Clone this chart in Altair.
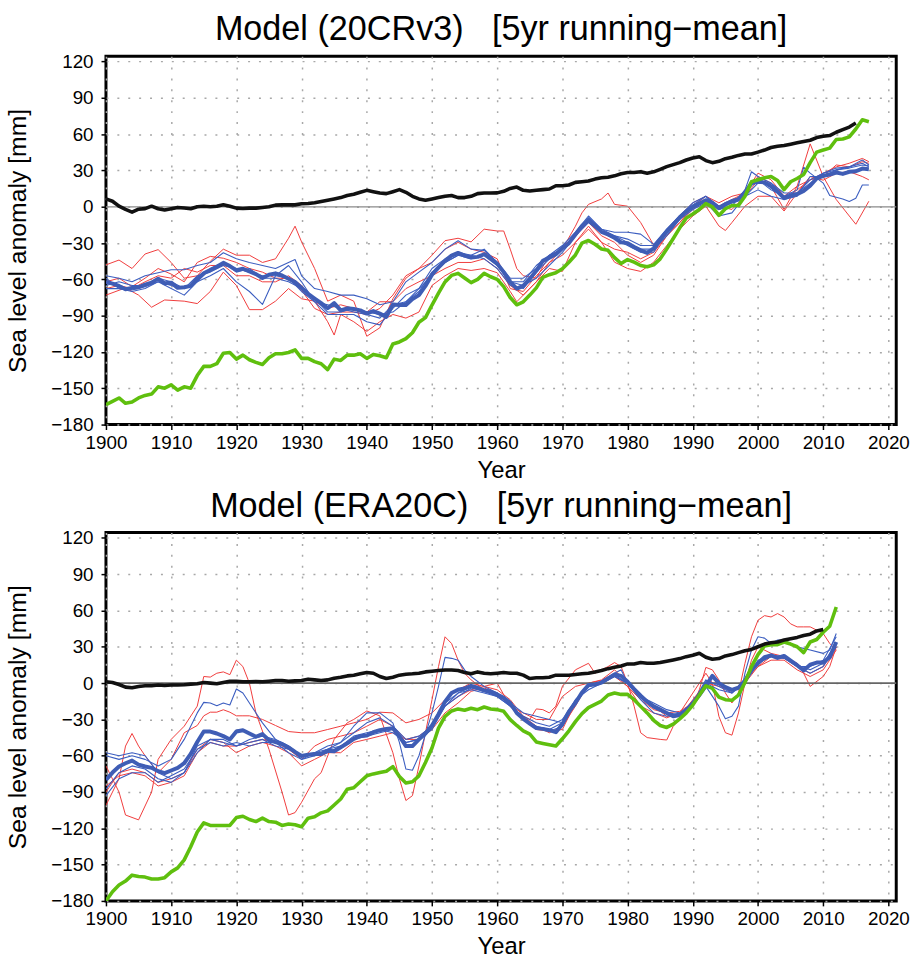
import altair as alt
import pandas as pd

FONT = "Liberation Sans, Arial, sans-serif"

# ---------------- Top panel: Model (20CRv3) ----------------
top_black_years = list(range(1900, 2016))
top_black = [6.5, 4.6, 0.5, -2.2, -4.4, -2, -1.5, 0.5, -1.6, -2.7,
             -1.6, -0.5, -1, -1.6, 0, 0.5, 0, 0.5, 1.6, 0.5,
             -1.1, -1.4, -1.1, -1.1, -0.5, 0, 1.4, 1.6, 1.6, 1.6,
             2.5, 2.7, 3.3, 4.4, 5.5, 6.5, 7.6, 9.3, 10.4, 12,
             13.6, 12.5, 11.4, 10.9, 12.5, 14.2, 12, 8.7, 6.5, 5.5,
             6.5, 7.6, 8.7, 9.3, 7.6, 7.6, 8.7, 10.9, 11.4, 11.4,
             11.5, 12.8, 15.2, 16.3, 13.6, 13, 13.6, 14.2, 14.7, 17.4,
             17.4, 18, 20.2, 20.7, 21.3, 22.9, 24, 24.5, 25.6, 27.3,
             28.3, 28.3, 28.9, 27.8, 28.9, 31, 33.2, 34.9, 36.5, 38.7,
             40.3, 41.4, 38.2, 36.5, 37.6, 39.8, 40.9, 42.5, 43.6, 43.6,
             45.2, 46.9, 49, 50.1, 50.7, 51.8, 52.9, 54, 55, 57.2,
             58.3, 58.9, 61.6, 63.8, 65.9, 69.2]

top_main_years = list(range(1900, 2018))
top_green = [-163.5, -160.8, -158, -162.4, -161.3, -158, -155.9, -154.8, -148.8, -149.9,
             -147.2, -151.5, -148.8, -149.9, -139.5, -131.9, -131.9, -129.7, -121, -120.4,
             -125.9, -122.6, -126.4, -128.6, -130.3, -124.8, -121.5, -121.5, -120.4, -118.3,
             -125.3, -125.3, -128, -129.7, -134.6, -125.9, -127, -122.6, -122.6, -121.5,
             -125.3, -122, -123.1, -124.8, -113.4, -111.7, -109, -104.1, -95.4, -91.6,
             -81.2, -71.4, -62.1, -56.7, -55, -58.9, -62.7, -60, -55, -57.8,
             -60, -66, -75, -81, -78.5, -73, -67, -58.3, -56.1, -54.5,
             -51.2, -45.8, -39.8, -30, -27.8, -31, -34.9, -36, -42, -46.9,
             -43.6, -45.8, -48.5, -49.6, -48, -43, -34.9, -26.2, -17.4, -9.3,
             -6, -2.2, 2.7, 0, -7.1, -1.6, 1.1, 1.1, 8.7, 20.7,
             22.3, 24, 25, 21.8, 14.2, 20.7, 23.4, 26.7, 36.5, 45.2,
             46.9, 48.5, 55.6, 56.1, 57.8, 64.3, 71.9, 70.3]
top_mean = [-62.1, -63.5, -65.4, -68.1, -67, -66.5, -64.3, -62.7, -59.4, -63.2,
            -62.7, -67, -66.5, -65.4, -59.4, -55, -52.3, -49.6, -46.3, -49,
            -52.3, -51.2, -53.4, -55.6, -58.9, -56.1, -55, -56.7, -59.4, -62.1,
            -67, -71.9, -75.8, -79.6, -83.9, -79.6, -85.6, -83.9, -84.5, -85.6,
            -88.3, -86.1, -88.3, -91, -80.7, -81.2, -81.2, -76.3, -73, -65.4,
            -56.1, -50.1, -44.7, -40.3, -38.1, -40.3, -42, -41.4, -39.2, -43,
            -47, -54, -62, -67.6, -65.4, -59.4, -52.9, -44.7, -42, -39.2,
            -34.3, -30, -22.9, -15.8, -10.9, -15.8, -20.7, -22.9, -25.6, -29.4,
            -30, -33.2, -36, -38.1, -34.3, -27.2, -20.7, -14.7, -8.7, -3.8,
            0, 2.7, 5.5, 3.3, -1.1, 2.2, 4.4, 6, 12, 19.6,
            20.7, 20.2, 16.9, 12.5, 7.1, 9.3, 10.4, 13, 17.4, 23.4,
            25.6, 26.7, 28.3, 27.2, 28.9, 29.4, 31.6, 31]

even_top = list(range(1900, 2017, 2)) + [2017]

top_red1_years = [1900, 1902, 1904, 1906, 1908, 1910, 1912, 1914, 1916, 1918,
                  1920, 1922, 1924, 1926, 1928, 1929, 1930, 1932, 1934, 1936,
                  1938, 1940, 1942, 1944, 1946, 1948, 1950, 1952, 1954, 1956,
                  1958, 1960, 1961, 1962, 1963, 1964, 1966, 1968, 1970, 1972,
                  1973, 1974, 1976, 1977, 1978, 1980, 1982, 1984, 1986, 1988,
                  1990, 1992, 1994, 1996, 1998, 2000, 2002, 2004, 2006, 2008,
                  2010, 2012, 2014, 2015, 2017]
top_red1 = [-48, -44, -51, -39, -35.4, -46, -59, -57, -45, -35,
            -40, -40, -46, -43, -26, -16, -29, -51, -78, -73,
            -78, -107, -100, -76, -59, -51, -40, -28, -26, -29,
            -18.5, -20, -20, -35, -51, -57, -59, -40, -35, -16,
            -5, 2, 6.5, 11.4, 2, 0.5, -13, -31.6, -21, -7.6,
            3.3, 8.7, 0.5, -2.2, 8.7, 22, 17, -2.2, 17, 52,
            25, 6, -7.6, -14.4, 4.6]
top_red2_years = [1900, 1903, 1905, 1907, 1909, 1912, 1914, 1916, 1918, 1920,
                  1922, 1924, 1926, 1928, 1930, 1932, 1934, 1935, 1936, 1938,
                  1940, 1942, 1944, 1946, 1948, 1950, 1952, 1954, 1956, 1958,
                  1960, 1962, 1963, 1964, 1966, 1968, 1970, 1972, 1974, 1976,
                  1978, 1980, 1982, 1984, 1986, 1988, 1990, 1992, 1994, 1995,
                  1996, 1998, 2000, 2002, 2004, 2006, 2008, 2010, 2012, 2014,
                  2016, 2017]
top_red2 = [-73, -67, -73, -83, -77, -78, -80, -70, -54, -65,
            -85, -85, -78, -67.6, -76, -78, -95, -106, -89, -95,
            -103, -95, -89, -92, -87, -65, -57, -51, -52.6, -51,
            -54.5, -70, -78.5, -73, -62, -51, -53.4, -29.4, -16, -29.4,
            -45.8, -51, -53.4, -45.8, -32, -18.5, -7.6, 0.5, -15.8, -19.6,
            -13, 0.5, 8.7, 8.7, -3.5, 11.4, 25, 22, 27.8, 29,
            25, 22.3]
top_red3 = [-62, -59, -66, -59, -51, -55.6, -62, -46, -41, -42.5,
            -46, -51, -54, -59, -59, -69, -84, -89, -87, -87,
            -89, -84, -73, -57, -51, -46, -35, -29.4, -35, -37.6,
            -43, -67.6, -70, -57, -46, -35, -24, -13, -24, -29.4,
            -40, -46, -40, -24, -13, 0.5, 8.7, 3.3, 8.7, 11.4,
            27.8, 22.3, 8.7, 17, 22.3, 27.8, 33, 36, 40, 37.3]
top_red4 = [-67.6, -65, -67.6, -62, -57, -59, -51, -54, -48.5, -48.5,
            -57, -57, -62, -62, -57, -65, -78.5, -84, -81, -84,
            -87, -78.5, -78.5, -67.6, -62, -57, -51, -46, -46, -43,
            -51, -65, -73, -62, -46, -40, -29.4, -18.5, -29.4, -35,
            -37.6, -43, -37.6, -24, -13, -2.2, 6, 0.5, 6, 11.4,
            25, 19.6, 6, 14, 22.3, 25, 34.6, 33, 37.3, 36]

top_blue1_years = [1900, 1902, 1904, 1906, 1908, 1910, 1912, 1914, 1916, 1918,
                   1920, 1922, 1924, 1926, 1928, 1929, 1930, 1932, 1934, 1936,
                   1938, 1940, 1942, 1944, 1946, 1948, 1950, 1952, 1954, 1956,
                   1958, 1960, 1962, 1964, 1966, 1968, 1970, 1972, 1974, 1976,
                   1978, 1980, 1982, 1984, 1986, 1988, 1990, 1992, 1994, 1996,
                   1998, 1999, 2000, 2002, 2004, 2006, 2007, 2008, 2010, 2011,
                   2013, 2014, 2015, 2016, 2017]
top_blue1 = [-57, -59, -62, -57, -54.5, -52, -52, -48.5, -46, -38,
             -43, -46, -48.5, -51, -46, -43.6, -57, -67.6, -70, -73,
             -73, -76, -81, -78.5, -62, -54, -46, -35, -28, -35,
             -36, -46, -59, -59, -51, -40, -35, -24, -9, -18.5,
             -21, -21, -22.6, -31, -18.5, -7.6, 3.3, 8.7, -2.2, 0.5,
             14, 29, 25, 19.6, 8.7, 14, 32.7, 27.8, 19.6, 9.3,
             6.5, 4.4, 7, 18, 18]
top_blue2 = [-59, -67.6, -70, -67.6, -62, -67.6, -73, -62, -57, -51,
             -62, -70, -80.7, -57, -48.5, -62, -78.5, -89, -89, -89,
             -95, -97.6, -84, -73, -67.6, -57, -46, -40, -43, -40,
             -48.5, -62, -65, -59, -48.5, -37.6, -24, -13, -21, -24,
             -29.4, -35, -35, -24, -10.4, -2.2, 3.3, -7.6, -5, 8.7,
             14, 8.7, 6, 8.7, 25, 25, 30.5, 33, 38.7, 34.6]
top_blue3 = [-65, -62, -65, -65, -59, -62, -67.6, -57, -54, -48.5,
             -51, -54, -57, -57, -59, -70, -78.5, -81, -84, -87,
             -89, -92, -81, -78.5, -70, -54, -46, -40, -40, -43,
             -51, -65, -67.6, -54, -43, -35, -24, -10.4, -21, -26.7,
             -32, -37.6, -37.6, -21, -7.6, 0.5, 6, -2.2, 3.3, 12.8,
             22.3, 14, 8.7, 11.4, 22.3, 27.8, 30.5, 32, 34.6, 33.8]
top_blue4 = [-67.6, -67.6, -68.7, -66, -62, -65, -67.6, -62, -51, -46,
             -54, -51, -59, -59, -62, -67.6, -76, -87, -87, -84,
             -87, -89, -87, -78.5, -67.6, -51, -43, -37.6, -40, -35,
             -46, -62, -62, -48.5, -40, -32, -21, -7.6, -18.5, -24,
             -26.7, -32, -32, -18.5, -7.6, 1.6, 8.7, 0.5, 6, 8.7,
             19.6, 19.6, 11.4, 11.4, 19.6, 27.8, 32, 33, 36, 33]

# ---------------- Bottom panel: Model (ERA20C) ----------------
bot_black_years = list(range(1900, 2011))
bot_black = [1.1, 0.5, -1.1, -3.3, -3.8, -2.7, -2.2, -2.2, -1.6, -1.9,
             -1.6, -1.6, -1.4, -0.8, -0.5, 0.5, 0, -0.5, 0.5, 1.6,
             1.6, 1.1, 1.1, 1.4, 1.1, 1.6, 2.2, 2.2, 1.6, 1.9,
             2.2, 3.3, 2.7, 2.2, 2.7, 4.1, 4.9, 6, 6.6, 7.7,
             8.8, 8.2, 5.5, 3.8, 4.9, 6.6, 7.4, 7.7, 8.2, 9.3,
             9.9, 10.4, 10.9, 10.9, 10.4, 8.8, 7.7, 9.3, 8.2, 7.7,
             8.2, 8.8, 8.2, 8.2, 6.6, 3.8, 4.4, 4.4, 4.9, 6.6,
             6.6, 6.6, 7.1, 7.7, 8.2, 9.3, 10.4, 12, 13.1, 14.2,
             15.9, 15.9, 17, 16.4, 16.4, 17, 18.1, 19.2, 20.3, 21.9,
             23, 24.7, 21.4, 19.7, 20.3, 22.5, 23.6, 25.2, 26.8, 27.9,
             30.1, 32.3, 33.4, 34, 35.6, 36.7, 37.8, 39.4, 40.5, 43.2,
             44.3]

bot_main_years = list(range(1900, 2013))
bot_green = [-180, -172.4, -166.9, -163.6, -158.7, -159.8, -160.3, -161.9, -161.9, -160.8,
             -156, -152.7, -146.1, -135.2, -123.1, -115.5, -117.6, -117.6, -117.6, -117.6,
             -111.1, -110, -112.7, -114.4, -111.6, -114.4, -114.9, -117.6, -116.5, -117.1,
             -118.7, -111.6, -110.5, -107.2, -105.6, -100.7, -95.8, -87.6, -86.5, -81.5,
             -76.6, -75, -73.9, -72.8, -69, -77.1, -82.6, -81.5, -76.6, -65.6,
             -53.6, -37.2, -27.4, -23, -21.3, -22.4, -20.8, -21.9, -19.7, -21.3,
             -21.9, -23.3, -30.1, -35, -39.4, -42.1, -48.6, -49.8, -50.9, -52,
             -46, -39.4, -31.8, -25.2, -20.2, -17.5, -14.8, -9.8, -8.2, -9.3,
             -9.3, -13.7, -19.2, -24.6, -30.7, -35, -36.6, -33.9, -29.5, -24.6,
             -18.1, -9.9, -2.2, -4.4, -11.5, -13.7, -14.2, -9.9, 0.5, 13.7,
             23.6, 30.7, 31.8, 31.8, 34, 32.3, 30.1, 25.2, 34, 36.1,
             42.1, 47, 62.9]
bot_mean = [-79.9, -73.9, -68.9, -66.2, -64, -67.3, -68.9, -70, -72.8, -74.4,
            -72.2, -70, -66.2, -58.5, -48.7, -40, -40, -41.6, -43.8, -46.5,
            -40, -38.9, -41.6, -44.3, -42.1, -47.1, -48.7, -50.3, -53.1, -56.9,
            -60.2, -59.1, -58.5, -58.5, -55.8, -56.3, -53.1, -49.8, -46, -43.8,
            -43.2, -40.5, -38.9, -37.8, -37.2, -43.8, -52, -52, -46.5, -41.6,
            -35, -25.7, -15.3, -8.2, -5.5, -4.4, -2.2, -3.8, -6, -7.1,
            -9.3, -12, -16.4, -24.6, -29.5, -33.4, -37.2, -37.8, -38.9, -40.5,
            -33.9, -23.5, -16.4, -7.7, -1.6, -1.1, 0.5, 3.8, 7.1, 6,
            1.1, -4.9, -10.4, -15.3, -19.2, -21.9, -24.6, -27.4, -26.3, -22.4,
            -16.4, -9.9, -2.2, 6, 0, -3.3, -5.5, -3.8, 2.2, 11,
            16.4, 21.4, 23, 20.8, 22.5, 18.6, 14.8, 10.4, 15.3, 17,
            17, 21.4, 34]

even_bot = list(range(1900, 2013, 2))

bot_red1_years = [1900, 1902, 1903, 1905, 1907, 1908, 1910, 1912, 1914, 1915,
                  1916, 1917, 1918, 1919, 1920, 1921, 1922, 1923, 1925, 1927,
                  1928, 1929, 1930, 1932, 1933, 1935, 1937, 1938, 1940, 1942,
                  1944, 1945, 1946, 1947, 1948, 1949, 1950, 1951, 1952, 1953,
                  1954, 1955, 1956, 1958, 1960, 1961, 1963, 1965, 1966, 1967,
                  1968, 1969, 1970, 1972, 1974, 1975, 1976, 1977, 1978, 1979,
                  1980, 1981, 1982, 1983, 1985, 1986, 1987, 1988, 1990, 1991,
                  1992, 1993, 1994, 1995, 1996, 1997, 1998, 1999, 2000, 2001,
                  2002, 2003, 2004, 2005, 2006, 2007, 2008, 2009, 2010, 2011,
                  2012]
bot_red1 = [-68.4, -90, -109, -113, -90, -63, -46.5, -35.6, -19, 5.5,
            5, 8.2, 9.3, 7, 19, 13.7, 0, -24.6, -54.7, -90,
            -109, -107, -98.5, -79, -74, -46.5, -32.8, -30, -23, -27,
            -57.5, -79, -97, -93, -68.4, -41, -13.7, 13.7, 38.3, 32.8,
            19, 8.2, 2.7, -5.5, -11, -13.7, -24.6, -30, -21.3, -21.9,
            -24.6, -19, -2.7, 11, 16.4, 8.2, 11, 13.7, 17, 13.7,
            0, -19, -41, -45, -46.5, -47, -35.6, -30, -19, -5.5,
            13, 11, 2.7, -8.2, -16.4, -8.2, 16.4, 38.3, 52, 55.8,
            54.7, 57.5, 54.7, 49, 46.5, 46.5, 46.5, 43.8, 41, 32.8,
            27.4]
bot_red2_years = [1900, 1901, 1902, 1903, 1904, 1905, 1906, 1908, 1910, 1912,
                  1914, 1915, 1916, 1917, 1918, 1919, 1920, 1921, 1922, 1924,
                  1926, 1928, 1930, 1932, 1934, 1936, 1938, 1940, 1942, 1944,
                  1946, 1948, 1950, 1952, 1954, 1956, 1958, 1960, 1962, 1964,
                  1966, 1968, 1970, 1972, 1974, 1976, 1978, 1980, 1982, 1984,
                  1986, 1988, 1990, 1991, 1992, 1993, 1994, 1995, 1996, 1997,
                  1998, 1999, 2000, 2002, 2004, 2006, 2007, 2008, 2010, 2011,
                  2012]
bot_red2 = [-101, -90, -79, -52, -41.6, -52, -60, -74, -63, -41,
            -35, -27, -24, -24, -22, -24, -27, -27, -27, -30,
            -35, -40, -41, -41, -38.3, -35.6, -32.8, -30, -24, -24.6,
            -32.8, -30, -24.6, -13.7, -5.5, 0, -2.7, 0, -19, -24.6,
            -30, -30, -11, -2.7, 0, 2.2, 8.2, -2.7, -19, -24.6,
            -28.7, -24.6, -8.2, 0, 8.2, 0, -27.4, -41, -43, -24.6,
            0, 19, 30, 24.6, 22, 16.4, 8.2, -2.7, 5.5, 13.7,
            30]
bot_red3 = [-90, -74, -71, -74, -82, -79, -74, -54.7, -46.5, -49,
            -57.5, -52, -49, -52, -57.5, -68.4, -63, -57.5, -57.5, -49,
            -46.5, -43.8, -41, -46.5, -43.8, -35.6, -19, -11, -5.5, -2.7,
            -5.5, -13.7, -27.4, -35.6, -41, -35.6, -19, 0, 2.7, 11,
            0, -11, -19, -27.4, -27.4, -13.7, 0, 0, -8.2, 2.7,
            13.7, 19, 19, 11, 5.5, 11, 27.4]
bot_red4 = [-85, -76.6, -74, -76.6, -85, -82, -76.6, -57.5, -49, -52,
            -52, -49, -46.5, -49, -54.7, -63, -52, -46.5, -43.8, -41,
            -35.6, -30, -35.6, -46.5, -46.5, -38.3, -24.6, -16.4, -6.8, -4,
            -8.2, -16.4, -30, -38.3, -39.7, -38.3, -16.4, -2.7, 0, 5.5,
            -2.7, -13.7, -21.9, -24.6, -23.3, -16.4, 0, -2.7, -5.5, 0,
            13.7, 22, 20.5, 13.7, 8.2, 13.7, 30]

bot_blue1_years = [1900, 1902, 1904, 1906, 1908, 1910, 1912, 1914, 1915, 1916,
                   1917, 1918, 1919, 1920, 1921, 1922, 1924, 1926, 1928, 1930,
                   1932, 1934, 1936, 1938, 1940, 1942, 1944, 1945, 1946, 1947,
                   1948, 1950, 1951, 1952, 1953, 1954, 1955, 1956, 1958, 1960,
                   1962, 1964, 1966, 1968, 1970, 1972, 1974, 1976, 1978, 1979,
                   1980, 1982, 1984, 1986, 1988, 1990, 1992, 1994, 1995, 1996,
                   1997, 1998, 1999, 2000, 2001, 2002, 2003, 2004, 2006, 2008,
                   2010, 2011, 2012]
bot_blue1 = [-60, -63, -60, -63, -68.4, -63, -46.5, -24.6, -15.9, -16.4,
             -18.6, -16.4, -18, -4.9, -8.2, -16.4, -32.8, -46.5, -52, -60,
             -57.5, -54.7, -49, -35.6, -24.6, -24.6, -32.8, -49, -71, -72,
             -60, -24.6, -2.7, 21.3, 20.5, 19, 11, 5.5, -2.7, -8.2,
             -16.4, -24.6, -27.4, -30, -32.8, -13.7, -2.7, 0, 8.2, 11,
             0, -13.7, -24.6, -27.4, -24.6, -19, -2.7, -19, -29.5, -27.4,
             -19, 8.2, 27.4, 38.3, 37.2, 32.8, 35.6, 35.6, 30, 27.4,
             24.6, 27.4, 41]
bot_blue2 = [-57.5, -60, -57.5, -60, -74, -79, -74, -57.5, -46.5, -49,
             -52, -46.5, -43.8, -46.5, -52, -63, -57.5, -52, -49, -41,
             -32.8, -28.7, -35.6, -46.5, -43.8, -35.6, -19, -8.2, -2.7, -5.5,
             -8.2, -19, -27.4, -32.8, -35.6, -30, -13.7, -5.5, 0, 5.5,
             0, -11, -16.4, -21.9, -24.6, -16.4, 0, -5.5, -8.2, 2.7,
             16.4, 22, 22, 13.7, 13.7, 19, 38.3]
bot_blue3 = [-87.6, -74, -68.4, -71, -79, -82, -74, -52, -46.5, -46.5,
             -52, -49, -46.5, -52, -54.7, -60, -60, -57.5, -52, -46.5,
             -43.8, -41, -38.3, -49, -46.5, -35.6, -16.4, -8.2, -5.5, -8.2,
             -11, -19, -30, -35.6, -38.3, -32.8, -16.4, -2.7, 0, 5.5,
             0, -11, -19, -24.6, -27.4, -16.4, 2.7, -2.7, -8.2, 0,
             16.4, 22, 20.5, 13.7, 8.2, 13.7, 30]
bot_blue4 = [-93, -79, -74, -74, -82, -76.6, -71, -54.7, -49, -52,
             -49, -52, -49, -49, -57.5, -63, -60, -54.7, -52, -43.8,
             -41, -38.3, -41, -49, -46.5, -38.3, -19, -11, -4, -6.8,
             -11, -19, -30, -37, -39.7, -35.6, -16.4, -2.7, 1.4, 6.8,
             0, -12.3, -20.5, -24.6, -26, -16.4, 1.4, -1.4, -6.8, 1.4,
             19, 23.3, 22, 15, 11, 16.4, 32.8]

X_TICKS = list(range(1900, 2021, 10))
Y_TICKS = list(range(-180, 121, 30))


def frame(series):
    rows = []
    for sid, kind, yrs, vals in series:
        for yr, v in zip(yrs, vals):
            rows.append({"sid": sid, "kind": kind, "year": yr, "value": v})
    return pd.DataFrame(rows)


def panel(series, title, zero_color, zero_width):
    df = frame(series)
    x = alt.X("year:Q",
              scale=alt.Scale(domain=[1900, 2021.2], nice=False, zero=False),
              axis=alt.Axis(values=X_TICKS, format="d", title="Year",
                            labelOverlap=False, labelFlush=False))
    y = alt.Y("value:Q",
              scale=alt.Scale(domain=[-180, 124.5], nice=False, zero=False),
              axis=alt.Axis(values=Y_TICKS, title="Sea level anomaly [mm]",
                            labelOverlap=False, labelFlush=False))
    zero = alt.Chart(pd.DataFrame({"value": [0]})).mark_rule(
        color=zero_color, strokeWidth=zero_width
    ).encode(y=y)

    def lines(kind, color, width):
        return alt.Chart(df).transform_filter(alt.datum.kind == kind).mark_line(
            color=color, strokeWidth=width, clip=True, strokeJoin="round"
        ).encode(x=x, y=y, detail="sid:N")

    layers = alt.layer(
        lines("red", "#f03c3c", 1.0),
        zero,
        lines("blue", "#3c5ec0", 1.1),
        lines("mean", "#3f5db5", 4.0),
        lines("green", "#5fbf0e", 3.6),
        lines("black", "#111111", 3.6),
    ).properties(
        width=798, height=372,
        title=alt.TitleParams(title, fontSize=34.5, font=FONT, fontWeight="normal",
                              anchor="middle", offset=5, color="black"),
    )
    return layers


NB = "\u00a0"

top = panel([
    ("tr1", "red", top_red1_years, top_red1),
    ("tr2", "red", top_red2_years, top_red2),
    ("tr3", "red", even_top, top_red3),
    ("tr4", "red", even_top, top_red4),
    ("tb1", "blue", top_blue1_years, top_blue1),
    ("tb2", "blue", even_top, top_blue2),
    ("tb3", "blue", even_top, top_blue3),
    ("tb4", "blue", even_top, top_blue4),
    ("tmean", "mean", top_main_years, top_mean),
    ("tgreen", "green", top_main_years, top_green),
    ("tblack", "black", top_black_years, top_black),
], "Model (20CRv3)" + NB * 3 + "[5yr running\u2212mean]", "#8a8a8a", 1.2)

bottom = panel([
    ("br1", "red", bot_red1_years, bot_red1),
    ("br2", "red", bot_red2_years, bot_red2),
    ("br3", "red", even_bot, bot_red3),
    ("br4", "red", even_bot, bot_red4),
    ("bb1", "blue", bot_blue1_years, bot_blue1),
    ("bb2", "blue", even_bot, bot_blue2),
    ("bb3", "blue", even_bot, bot_blue3),
    ("bb4", "blue", even_bot, bot_blue4),
    ("bmean", "mean", bot_main_years, bot_mean),
    ("bgreen", "green", bot_main_years, bot_green),
    ("bblack", "black", bot_black_years, bot_black),
], "Model (ERA20C)" + NB * 3 + "[5yr running\u2212mean]", "#666666", 1.8)

chart = alt.vconcat(top, bottom, spacing=3).properties(
    padding={"left": 4, "top": 6, "right": 10, "bottom": 2},
    background="white",
).configure_view(
    stroke="black", strokeWidth=3
).configure_axis(
    domain=False,
    grid=True, gridColor="#a8a8a8", gridDash=[2, 9], gridWidth=1.5,
    ticks=True, tickColor="black", tickSize=5, tickWidth=1.5,
    labelFont=FONT, labelFontSize=19, labelColor="black", labelPadding=4,
    titleFont=FONT, titleFontSize=24, titleFontWeight="normal", titleColor="black",
    titlePadding=6,
).configure_axisY(
    titlePadding=20, labelPadding=8, titleFontSize=25
)

chart.save("out.html", embed_options={"renderer": "svg", "actions": False})
